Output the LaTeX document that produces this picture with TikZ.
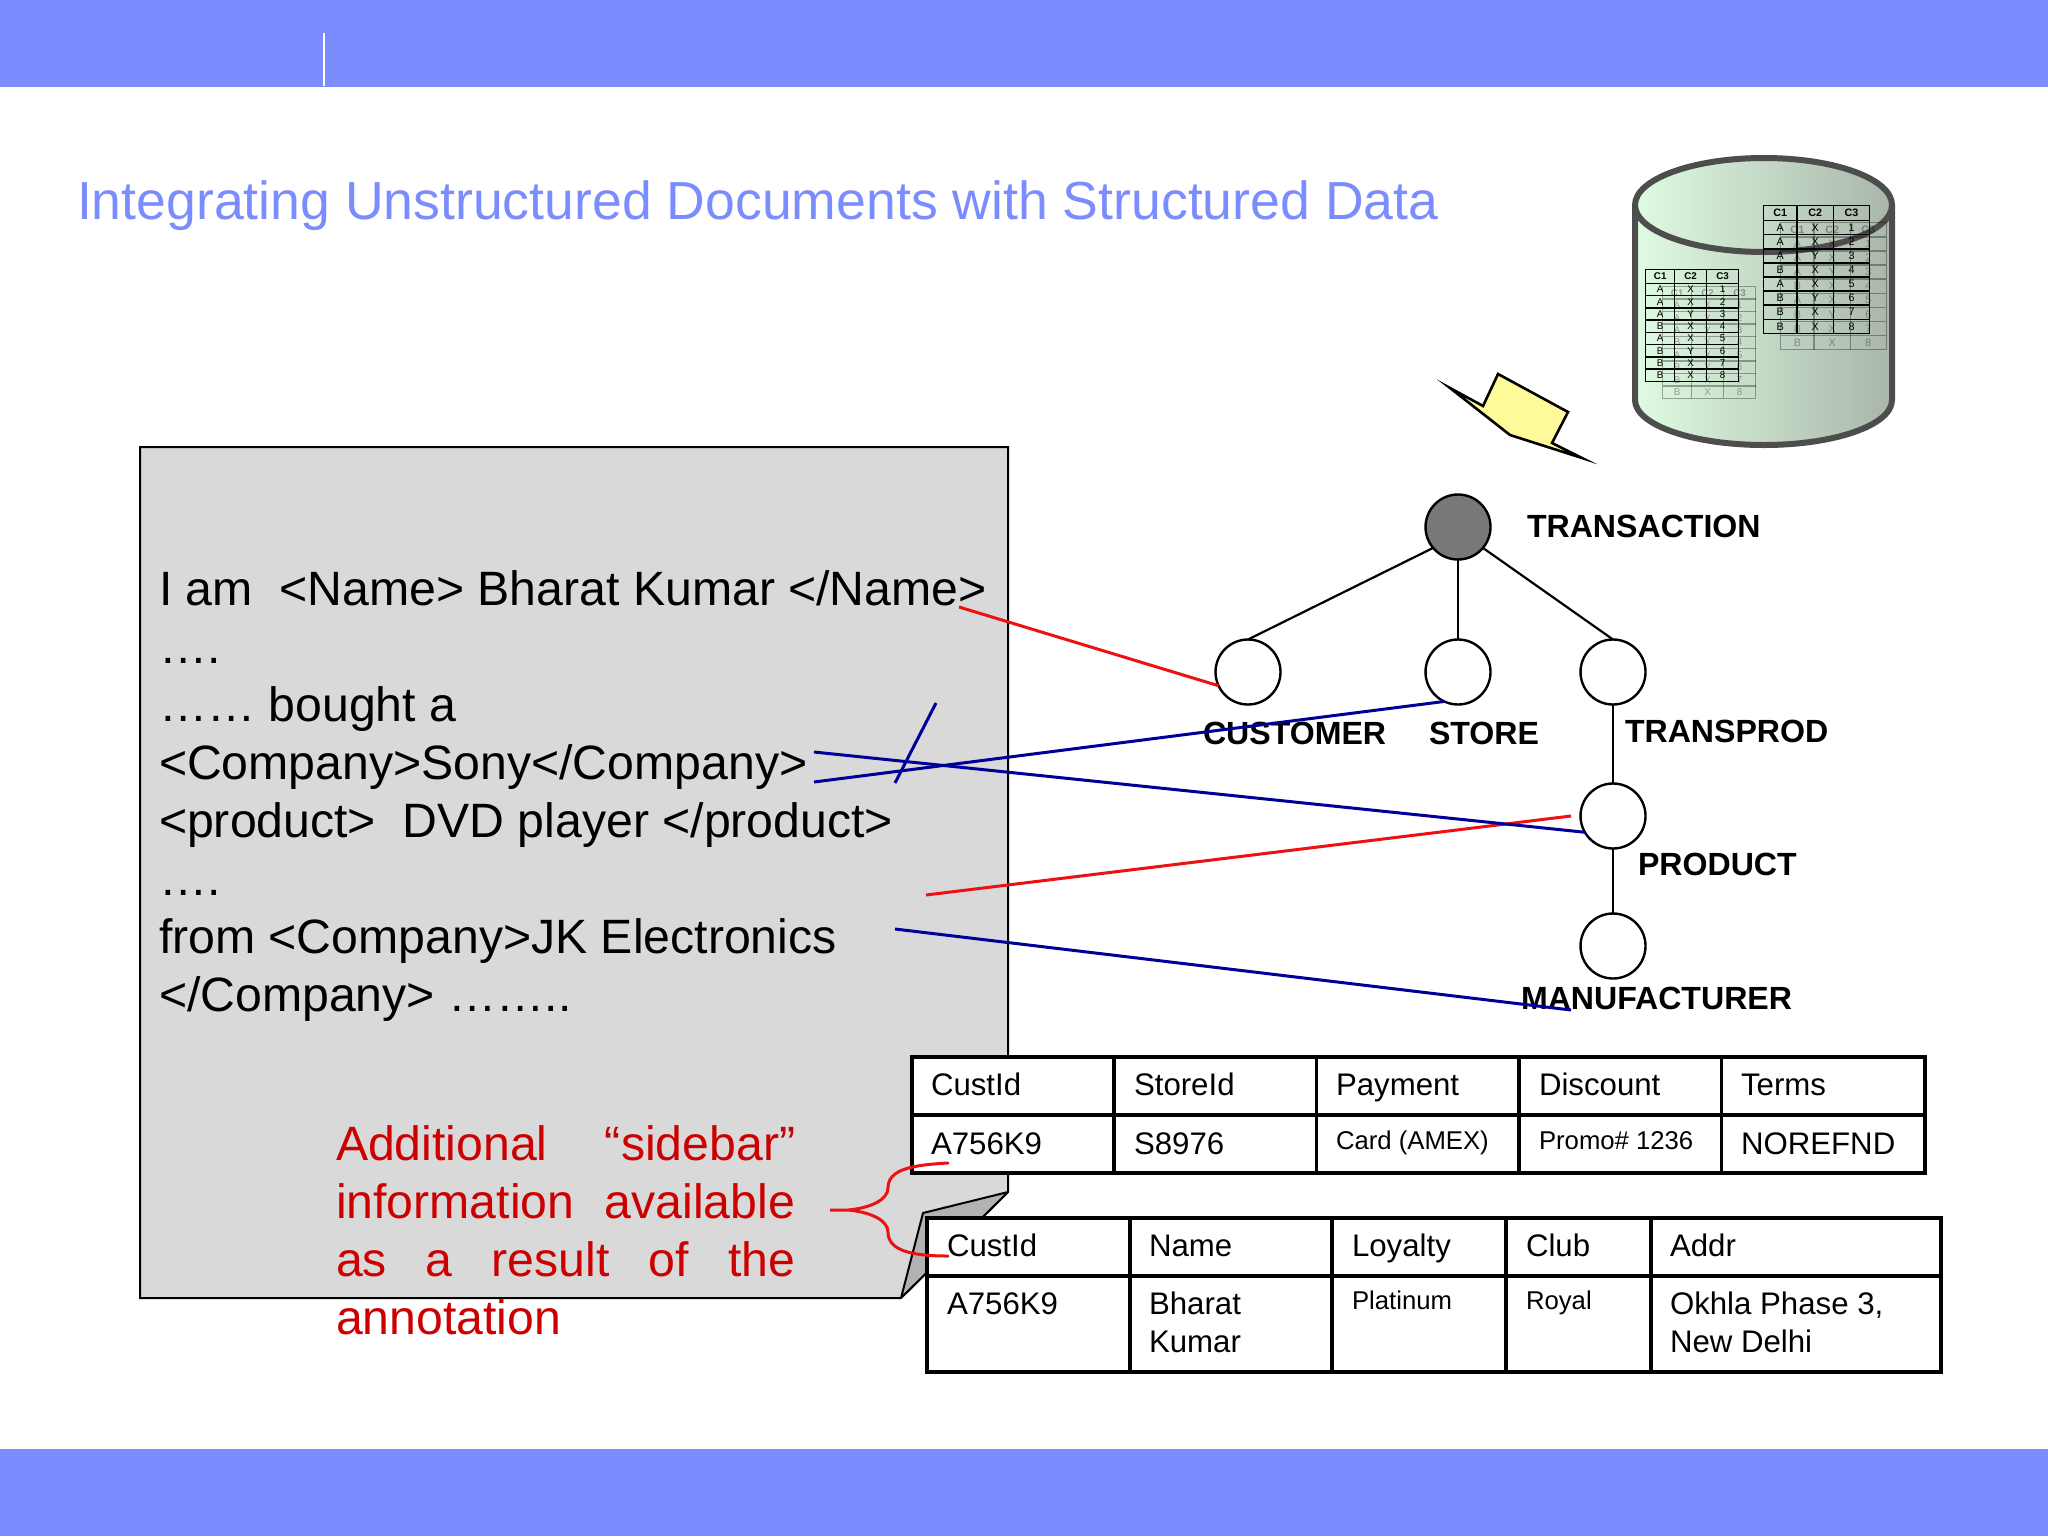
\documentclass[tikz,border=0pt]{standalone}
\usepackage{fontspec}
\setmainfont{Liberation Sans}
\definecolor{band}{HTML}{7B8CFF}
\definecolor{docgray}{HTML}{D9D9D9}
\definecolor{foldgray}{HTML}{B2B2B2}
\definecolor{darkred}{HTML}{CC0000}
\definecolor{linkred}{HTML}{EE1111}
\definecolor{linkblue}{HTML}{000099}
\definecolor{cylL}{HTML}{DFFBE2}
\definecolor{cylR}{HTML}{A9B6A9}
\definecolor{cylE}{HTML}{4D4D4D}
\tikzset{
  txt/.style={inner sep=0pt,outer sep=0pt,anchor=base west},
  doctext/.style={txt,font=\fontsize{24.1}{29}\selectfont},
  sidetext/.style={txt,font=\fontsize{24.1}{29}\selectfont,text=darkred},
  cell/.style={txt,font=\fontsize{15.6}{19}\selectfont},
  smallcell/.style={txt,font=\fontsize{12.85}{16}\selectfont},
  treelabel/.style={txt,font=\fontsize{16.05}{19}\selectfont\bfseries},
  treenode/.style={circle,draw=black,line width=1.2pt,minimum size=32.5pt,inner sep=0pt,outer sep=0pt,fill=white},
  treeedge/.style={draw=black,line width=1.1pt},
  tablerule/.style={draw=black,line width=1.6pt,line join=miter},
  redlink/.style={draw=linkred,line width=1.5pt},
  bluelink/.style={draw=linkblue,line width=1.5pt},
  minirule/.style={draw=black,line width=0.7pt},
  minitxt/.style={inner sep=0pt,outer sep=0pt,anchor=center}
}
% #1 prefix, #2-#5 column x, #6 top y, #7 header height, #8 row height, #9 font size
\newcommand{\minitable}[9]{%
  \draw[minirule] (#2,#6) rectangle (#5,#6+#7+8*#8);
  \draw[minirule] (#3,#6) -- (#3,#6+#7+8*#8) (#4,#6) -- (#4,#6+#7+8*#8);
  \draw[minirule] (#2,#6+#7) -- (#5,#6+#7);
  \foreach \r in {1,...,7} \draw[minirule] (#2,#6+#7+\r*#8) -- (#5,#6+#7+\r*#8);
  \node[minitxt,font=\fontsize{#9}{#9}\selectfont\bfseries] (#1h1) at ({(#2+#3)/2},#6+#7/2) {C1};
  \node[minitxt,font=\fontsize{#9}{#9}\selectfont\bfseries] (#1h2) at ({(#3+#4)/2},#6+#7/2) {C2};
  \node[minitxt,font=\fontsize{#9}{#9}\selectfont\bfseries] (#1h3) at ({(#4+#5)/2},#6+#7/2) {C3};
  \foreach \r/\a/\b in {1/A/X,2/A/X,3/A/Y,4/B/X,5/A/X,6/B/Y,7/B/X,8/B/X}{
    \node[minitxt,font=\fontsize{#9}{#9}\selectfont] (#1a\r) at ({(#2+#3)/2},#6+#7+\r*#8-#8/2) {\a};
    \node[minitxt,font=\fontsize{#9}{#9}\selectfont] (#1b\r) at ({(#3+#4)/2},#6+#7+\r*#8-#8/2) {\b};
    \node[minitxt,font=\fontsize{#9}{#9}\selectfont] (#1c\r) at ({(#4+#5)/2},#6+#7+\r*#8-#8/2) {\r};
  }%
}
\begin{document}
\begin{tikzpicture}[x=0.5pt,y=-0.5pt]
\useasboundingbox (0,0) rectangle (2048,1536);
% bands
\fill[band] (0,0) rectangle (2048,87);
\fill[band] (0,1449) rectangle (2048,1536);
\draw[white,line width=0.8pt] (324,33) -- (324,86);
% title
\node[txt,text=band,font=\fontsize{26.8}{32}\selectfont] (title) at (77,219) {Integrating Unstructured Documents with Structured Data};
% document shape
\draw[fill=docgray,draw=black,line width=1pt,line join=miter] (140,447) -- (1008,447) -- (1008,1192) -- (901,1298) -- (140,1298) -- cycle;
\draw[fill=foldgray,draw=black,line width=1pt,line join=round] (1008,1192) -- (923,1213) -- (901,1298) -- cycle;
% document text
\node[doctext] (d1) at (159,605) {I am\ \ <Name> Bharat Kumar </Name>};
\node[doctext] (d2) at (159,663) {….};
\node[doctext] (d3) at (159,721) {…… bought a};
\node[doctext] (d4) at (159,779) {<Company>Sony</Company>};
\node[doctext] (d5) at (159,837) {<product>\ \ DVD player </product>};
\node[doctext] (d6) at (159,895) {….};
\node[doctext] (d7) at (159,953) {from <Company>JK Electronics};
\node[doctext] (d8) at (159,1011) {</Company> ……..};
% sidebar text
\node[sidetext] (s1) at (336,1160) {\hbox to 229.6pt{Additional\hfill “sidebar”}};
\node[sidetext] (s2) at (336,1218) {\hbox to 229.6pt{information\hfill available}};
\node[sidetext] (s3) at (336,1276) {\hbox to 229.6pt{as\hfill a\hfill result\hfill of\hfill the}};
\node[sidetext] (s4) at (336,1334) {annotation};
% cylinder
\draw[left color=cylL,right color=cylR,draw=cylE,line width=3pt,line join=round]
  (1635,205) -- (1635,400) .. controls (1635,425) and (1693,445) .. (1764,445)
  .. controls (1835,445) and (1892,425) .. (1892,400) -- (1892,205) -- cycle;
\draw[left color=cylL,right color=cylR,draw=cylE,line width=3pt]
  (1635,205) .. controls (1635,179) and (1693,158) .. (1764,158)
  .. controls (1835,158) and (1892,179) .. (1892,205)
  .. controls (1892,231) and (1835,252) .. (1764,252)
  .. controls (1693,252) and (1635,231) .. (1635,205) -- cycle;
% mini tables
\begin{scope}[opacity=0.33]
\minitable{gu}{1780.7}{1814}{1850.3}{1886.3}{222.7}{14.1}{14.1}{5.4}
\minitable{gl}{1662.7}{1691.7}{1723.3}{1755.7}{286.7}{12.4}{12.4}{4.9}
\end{scope}
\minitable{mu}{1763.3}{1797}{1833.3}{1869.7}{205.3}{15.4}{14.08}{5.4}
\minitable{ml}{1645.7}{1674.7}{1706.3}{1738.7}{269.7}{13.6}{12.25}{4.9}
% lightning
\draw[fill=yellow!40!white,draw=black,line width=1.3pt,line join=miter,miter limit=20]
  (1450,388) -- (1483,406) -- (1498,374) -- (1568,412) -- (1552,443) -- (1582,458) -- (1510,435) -- cycle;
% tree
\node[treenode,fill=black!53] (tr) at (1458,527) {};
\node[treenode] (cu) at (1248,672) {};
\node[treenode] (st) at (1458,672) {};
\node[treenode] (tp) at (1613,672) {};
\node[treenode] (pr) at (1613,816) {};
\node[treenode] (ma) at (1613,946) {};
\draw[treeedge] (tr.220) -- (cu.north);
\draw[treeedge] (tr.south) -- (st.north);
\draw[treeedge] (tr.-40) -- (tp.north);
\draw[treeedge] (tp.south) -- (pr.north);
\draw[treeedge] (pr.south) -- (ma.north);
\node[treelabel] (ltr) at (1527,537) {TRANSACTION};
\node[treelabel] (lcu) at (1203,744) {CUSTOMER};
\node[treelabel] (lst) at (1429,744) {STORE};
\node[treelabel] (ltp) at (1625,742) {TRANSPROD};
\node[treelabel] (lpr) at (1638,875) {PRODUCT};
\node[treelabel] (lma) at (1521,1009) {MANUFACTURER};
% table one
\draw[tablerule,fill=white] (912,1057) rectangle (1925,1173);
\draw[tablerule] (912,1115) -- (1925,1115);
\draw[tablerule] (1114,1057) -- (1114,1173) (1316.5,1057) -- (1316.5,1173) (1519,1057) -- (1519,1173) (1721.5,1057) -- (1721.5,1173);
\node[cell] (a1) at (931,1095) {CustId};
\node[cell] (a2) at (1134,1095) {StoreId};
\node[cell] (a3) at (1336,1095) {Payment};
\node[cell] (a4) at (1539,1095) {Discount};
\node[cell] (a5) at (1741,1095) {Terms};
\node[cell] (b1) at (931,1154) {A756K9};
\node[cell] (b2) at (1134,1154) {S8976};
\node[smallcell] (b3) at (1336,1149) {Card (AMEX)};
\node[smallcell] (b4) at (1539,1149) {Promo\# 1236};
\node[cell] (b5) at (1741,1154) {NOREFND};
% table two
\draw[tablerule,fill=white] (927,1218) rectangle (1941,1372);
\draw[tablerule] (927,1276) -- (1941,1276);
\draw[tablerule] (1130,1218) -- (1130,1372) (1332,1218) -- (1332,1372) (1506,1218) -- (1506,1372) (1651,1218) -- (1651,1372);
\node[cell] (c1) at (947,1256) {CustId};
\node[cell] (c2) at (1149,1256) {Name};
\node[cell] (c3) at (1352,1256) {Loyalty};
\node[cell] (c4) at (1526,1256) {Club};
\node[cell] (c5) at (1670,1256) {Addr};
\node[cell] (e1) at (947,1314) {A756K9};
\node[cell] (e2) at (1149,1314) {Bharat};
\node[cell] (e2b) at (1149,1352) {Kumar};
\node[smallcell] (e3) at (1352,1309) {Platinum};
\node[smallcell] (e4) at (1526,1309) {Royal};
\node[cell] (e5) at (1670,1314) {Okhla Phase 3,};
\node[cell] (e5b) at (1670,1352) {New Delhi};
% links
\coordinate (r1s) at (959,607);
\coordinate (r2s) at (926,895);
\coordinate (r2e) at (1571,816);
\coordinate (b1s) at (814,782);
\coordinate (b2s) at (814,752);
\coordinate (b3s) at (895,929);
\coordinate (b3e) at (1571,1010);
\coordinate (k1) at (936,703);
\coordinate (k2) at (895,783);
\draw[redlink] (r1s) -- (cu.205);
\draw[redlink] (r2s) -- (r2e);
\draw[bluelink] (b1s) -- (st.245);
\draw[bluelink] (b2s) -- (pr.210);
\draw[bluelink] (b3s) -- (b3e);
\draw[bluelink] (k1) -- (k2);
% brace
\coordinate (q1) at (948,1163);
\coordinate (q2) at (948,1256);
\draw[redlink,line cap=round] (q1) .. controls (910,1165) and (888,1170) .. (888,1188)
  .. controls (888,1200) and (870,1208) .. (848,1210) -- (830,1210) -- (848,1210)
  .. controls (870,1212) and (888,1220) .. (888,1232)
  .. controls (888,1250) and (910,1256) .. (q2);
\end{tikzpicture}
\end{document}
